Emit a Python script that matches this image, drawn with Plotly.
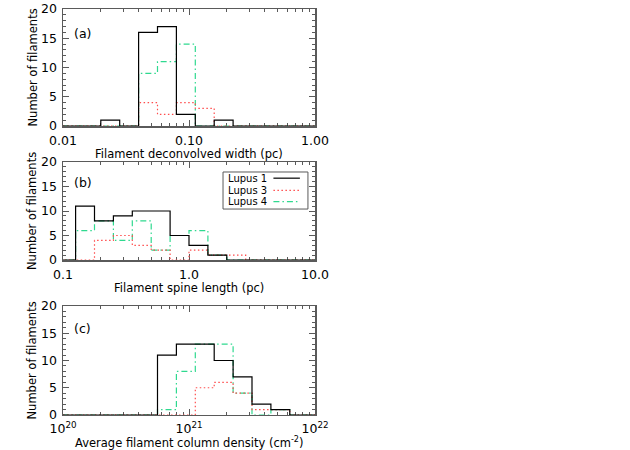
import plotly.graph_objects as go

# ---------------- data ----------------
series_names = ["Lupus 1", "Lupus 3", "Lupus 4"]

# log10 bin edges (0.15 dex bins) for each panel
edges_a = [-2.0, -1.85, -1.7, -1.55, -1.4, -1.25, -1.1, -0.95, -0.8, -0.65, -0.5, -0.35, -0.2, -0.05, 0.1]
edges_b = [-1.05, -0.9, -0.75, -0.6, -0.45, -0.3, -0.15, 0.0, 0.15, 0.3, 0.45, 0.6, 0.75, 0.9, 1.05]
edges_c = [20.0, 20.15, 20.3, 20.45, 20.6, 20.75, 20.9, 21.05, 21.2, 21.35, 21.5, 21.65, 21.8, 21.95, 22.1]

# counts, panel (a): deconvolved width
lupus1_a = [0, 0, 1, 0, 16, 17, 2, 0, 1, 0, 0, 0, 0, 0]
lupus3_a = [0, 0, 0, 0, 4, 2, 4, 3, 0, 0, 0, 0, 0, 0]
lupus4_a = [0, 0, 0, 0, 9, 11, 14, 0, 0, 0, 0, 0, 0, 0]

# counts, panel (b): spine length
lupus1_b = [0, 11, 8, 9, 10, 10, 5, 3, 1, 0, 0, 0, 0, 0]
lupus3_b = [0, 0, 4, 5, 3, 2, 0, 2, 1, 1, 0, 0, 0, 0]
lupus4_b = [0, 6, 8, 4, 8, 2, 5, 6, 1, 0, 0, 0, 0, 0]

# counts, panel (c): column density
lupus1_c = [0, 0, 0, 0, 0, 11, 13, 13, 10, 7, 2, 1, 0, 0]
lupus3_c = [0, 0, 0, 0, 0, 0, 0, 5, 6, 4, 1, 1, 0, 0]
lupus4_c = [0, 0, 0, 0, 0, 1, 8, 13, 13, 4, 0, 1, 0, 0]

xtick_vals_a = [0.01, 0.1, 1.0]
xtick_text_a = ["0.01", "0.10", "1.00"]
xtick_vals_b = [0.1, 1.0, 10.0]
xtick_text_b = ["0.1", "1.0", "10.0"]
xtick_vals_c = [1e20, 1e21, 1e22]
xtick_text_c = ["10<sup>20</sup>", "10<sup>21</sup>", "10<sup>22</sup>"]
ytick_vals = [0, 5, 10, 15, 20]

xtitles = ["Filament deconvolved width (pc)",
           "Filament spine length (pc)",
           "Average filament column density (cm<sup>-2</sup>)"]
ytitle = "Number of filaments"
panel_labels = ["(a)", "(b)", "(c)"]

# ---------------- styles ----------------
FONT = "DejaVu Sans, Liberation Sans, Arial, sans-serif"
styles = {
    "Lupus 1": dict(color="#000000", dash="solid", width=1.2),
    "Lupus 3": dict(color="#ff4d4d", dash="1.5px,2.5px", width=1.2),
    "Lupus 4": dict(color="#2fd98f", dash="6px,3px,1.5px,3px", width=1.2),
}
AXCOL = "#5a5a5a"

panels = [
    (edges_a, [lupus1_a, lupus3_a, lupus4_a]),
    (edges_b, [lupus1_b, lupus3_b, lupus4_b]),
    (edges_c, [lupus1_c, lupus3_c, lupus4_c]),
]

fig = go.Figure()
for p, (edges, counts_list) in enumerate(panels):
    xa = "x" if p == 0 else f"x{p+1}"
    ya = "y" if p == 0 else f"y{p+1}"
    xs = [10.0 ** e for e in edges]
    # draw order: Lupus 4, Lupus 3, then Lupus 1 on top
    for idx in [2, 1, 0]:
        name = series_names[idx]
        counts = counts_list[idx]
        ys = list(counts) + [counts[-1]]
        fig.add_trace(go.Scatter(
            x=xs, y=ys, mode="lines", line_shape="hv",
            line=styles[name], name=name, showlegend=False,
            xaxis=xa, yaxis=ya, cliponaxis=True, hoverinfo="skip"))

ydomains = [[0.72, 0.98], [0.4222, 0.64], [0.0778, 0.32]]
xtitle_y = [0.658, 0.360, 0.0162]
xtick_sets = [(xtick_vals_a, xtick_text_a, [-2, 0]),
              (xtick_vals_b, xtick_text_b, [-1, 1]),
              (xtick_vals_c, xtick_text_c, [20, 22])]

layout = dict(
    width=630, height=450,
    template="none",
    paper_bgcolor="white", plot_bgcolor="white",
    margin=dict(l=0, r=0, t=0, b=0, autoexpand=False),
    font=dict(family=FONT, size=12, color="black"),
    showlegend=False,
)

for p in range(3):
    xk = "xaxis" if p == 0 else f"xaxis{p+1}"
    yk = "yaxis" if p == 0 else f"yaxis{p+1}"
    ya = "y" if p == 0 else f"y{p+1}"
    xa = "x" if p == 0 else f"x{p+1}"
    tv, tt, rng = xtick_sets[p]
    minor_vals = []
    for d in range(rng[0], rng[1]):
        for m in range(2, 10):
            minor_vals.append(float(m) * 10.0 ** d)
    layout[xk] = dict(
        type="log", range=rng, domain=[0.1, 0.5], anchor=ya,
        tickmode="array", tickvals=tv, ticktext=tt,
        ticks="inside", ticklen=6, tickcolor=AXCOL, tickwidth=1,
        minor=dict(tickmode="array", tickvals=minor_vals, ticks="inside",
                   ticklen=3, tickcolor=AXCOL, showgrid=False),
        showline=True, linecolor=AXCOL, linewidth=1.5, mirror="ticks",
        showgrid=False, zeroline=False, layer="below traces",
        automargin=False, ticklabelstandoff=2,
        tickfont=dict(size=12.5),
    )
    layout[yk] = dict(
        range=[0, 20], domain=ydomains[p], anchor=xa,
        tickmode="array", tickvals=ytick_vals,
        ticks="inside", ticklen=6, tickcolor=AXCOL, tickwidth=1,
        minor=dict(dtick=1, ticks="inside", ticklen=3, tickcolor=AXCOL, showgrid=False),
        showline=True, linecolor=AXCOL, linewidth=1.5, mirror="ticks",
        showgrid=False, zeroline=False, layer="below traces",
        automargin=False, ticklabelstandoff=2,
        tickfont=dict(size=12.5),
    )

annotations = []
shapes = []
for p in range(3):
    xa = "x" if p == 0 else f"x{p+1}"
    ya = "y" if p == 0 else f"y{p+1}"
    annotations.append(dict(
        text=panel_labels[p], xref=f"{xa} domain", yref=f"{ya} domain",
        x=0.035, y=0.79, xanchor="left", yanchor="middle", showarrow=False,
        font=dict(size=12.5, family=FONT)))
    # axis titles
    annotations.append(dict(
        text=xtitles[p], xref="paper", yref="paper",
        x=0.3, y=xtitle_y[p], xanchor="center", yanchor="middle", showarrow=False,
        font=dict(size=11.5, family=FONT)))
    annotations.append(dict(
        text=ytitle, xref="paper", yref="paper", textangle=-90,
        x=32 / 630, y=sum(ydomains[p]) / 2, xanchor="center", yanchor="middle",
        showarrow=False, font=dict(size=11.5, family=FONT)))

# custom legend in panel (b): text on the left, line sample on the right
shapes.append(dict(type="rect", xref="x2 domain", yref="y2 domain",
                   x0=0.635, x1=0.972, y0=0.52, y1=0.898,
                   line=dict(color=AXCOL, width=1), fillcolor="white", layer="above"))
row_y = [0.835, 0.71, 0.595]
for i, name in enumerate(series_names):
    annotations.append(dict(
        text=name, xref="x2 domain", yref="y2 domain",
        x=0.648, y=row_y[i], xanchor="left", yanchor="middle", showarrow=False,
        font=dict(size=10, family=FONT)))
    st = styles[name]
    shapes.append(dict(type="line", xref="x2 domain", yref="y2 domain",
                       x0=0.835, x1=0.94, y0=row_y[i], y1=row_y[i],
                       line=dict(color=st["color"], dash=st["dash"], width=st["width"]),
                       layer="above"))

layout["annotations"] = annotations
layout["shapes"] = shapes
fig.update_layout(**layout)
fig.write_html("out.html", config={"displayModeBar": False, "staticPlot": True},
               post_script="document.body.style.margin='0';document.body.style.overflow='hidden';")
